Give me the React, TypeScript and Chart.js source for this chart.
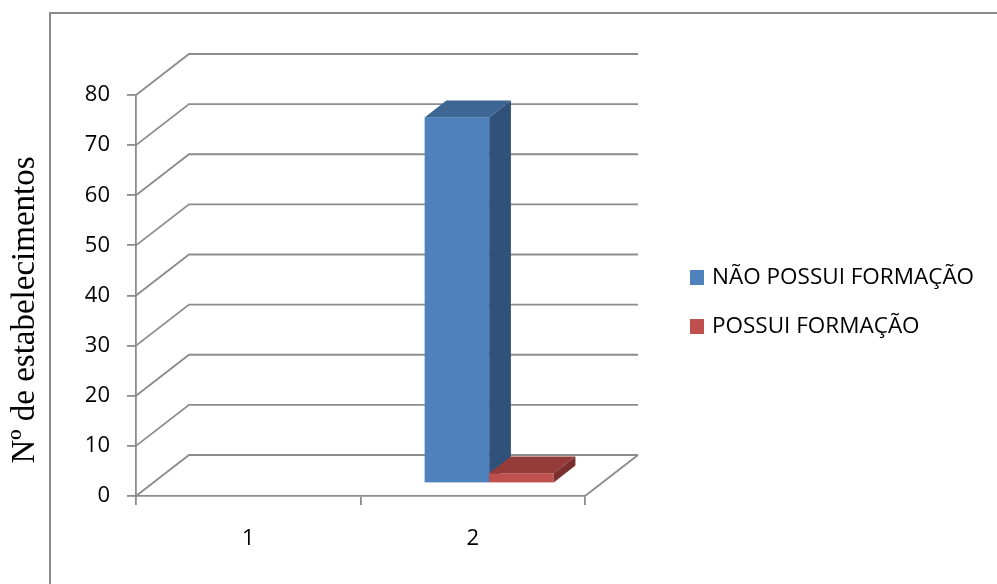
import React, { useEffect, useRef } from "react";
import { Chart, registerables } from "chart.js";

Chart.register(...registerables);

// Data
const categories = ["1", "2"];
const naoPossuiFormacao: (number | null)[] = [null, 73];
const possuiFormacao: (number | null)[] = [null, 2];
const seriesLabels = ["NÃO POSSUI FORMAÇÃO", "POSSUI FORMAÇÃO"];
const yMin = 0;
const yMax = 80;
const yStep = 10;
const yAxisTitle = "Nº de estabelecimentos";

// Styling
const W = 997;
const H = 584;
const GRID = "#8c8c8c";
const SANS = "'Open Sans', 'Liberation Sans', sans-serif";
const SERIF = "'Liberation Serif', 'Times New Roman', serif";
const FRONT = ["#4F81BD", "#C0504D"];
const TOP = ["#3D6695", "#953B39"];
const SIDE = ["#30527A", "#7C302E"];

// Perspective depth of the floor / walls
const DX = 53;
const DY = -41;
const BAR_FRONT = 0.31;
const BAR_BACK = 0.72;

const box3d = {
  id: "box3d",
  beforeDraw(chart: any) {
    const { ctx } = chart;
    ctx.save();
    ctx.fillStyle = "#ffffff";
    ctx.fillRect(0, 0, W, H);
    ctx.strokeStyle = "#8a8a8a";
    ctx.lineWidth = 2;
    ctx.beginPath();
    ctx.moveTo(50, H);
    ctx.lineTo(50, 13);
    ctx.lineTo(W, 13);
    ctx.stroke();
    ctx.restore();
  },
  beforeDatasetsDraw(chart: any) {
    const { ctx, chartArea, scales } = chart;
    const { left, right, bottom } = chartArea;
    const y = scales.y;
    ctx.save();
    ctx.strokeStyle = GRID;
    ctx.lineWidth = 1.8;
    ctx.lineJoin = "miter";
    for (const t of y.ticks) {
      const py = y.getPixelForValue(t.value);
      ctx.beginPath();
      ctx.moveTo(left, py);
      ctx.lineTo(left + DX, py + DY);
      ctx.lineTo(right + DX, py + DY);
      ctx.stroke();
    }
    ctx.beginPath();
    ctx.moveTo(right, bottom);
    ctx.lineTo(right + DX, bottom + DY);
    ctx.stroke();
    ctx.restore();
  },
  beforeDatasetDraw() {
    return false;
  },
  afterDatasetsDraw(chart: any) {
    const { ctx } = chart;
    const fx = DX * BAR_FRONT;
    const fy = DY * BAR_FRONT;
    const bx = DX * BAR_BACK;
    const by = DY * BAR_BACK;
    ctx.save();
    chart.data.datasets.forEach((ds: any, i: number) => {
      const meta = chart.getDatasetMeta(i);
      meta.data.forEach((el: any, j: number) => {
        const v = ds.data[j];
        if (v === null || v === undefined || isNaN(el.y)) return;
        const l = el.x - el.width / 2;
        const r = el.x + el.width / 2;
        const top = el.y;
        const base = el.base;
        // front face
        ctx.fillStyle = FRONT[i];
        ctx.fillRect(l + fx, top + fy, r - l, base - top);
        // top face
        ctx.fillStyle = TOP[i];
        ctx.beginPath();
        ctx.moveTo(l + fx, top + fy);
        ctx.lineTo(l + bx, top + by);
        ctx.lineTo(r + bx, top + by);
        ctx.lineTo(r + fx, top + fy);
        ctx.closePath();
        ctx.fill();
        // side face
        ctx.fillStyle = SIDE[i];
        ctx.beginPath();
        ctx.moveTo(r + fx, top + fy);
        ctx.lineTo(r + bx, top + by);
        ctx.lineTo(r + bx, base + by);
        ctx.lineTo(r + fx, base + fy);
        ctx.closePath();
        ctx.fill();
      });
    });
    ctx.restore();
  },
  afterDraw(chart: any) {
    const { ctx } = chart;
    ctx.save();
    // axis title
    ctx.fillStyle = "#000";
    ctx.font = `33px ${SERIF}`;
    ctx.textAlign = "center";
    ctx.textBaseline = "alphabetic";
    ctx.translate(34, 310);
    ctx.rotate(-Math.PI / 2);
    ctx.fillText(yAxisTitle, 0, 0);
    ctx.restore();

    // legend
    ctx.save();
    ctx.font = `22.5px ${SANS}`;
    ctx.textBaseline = "middle";
    ctx.textAlign = "left";
    chart.data.datasets.forEach((ds: any, i: number) => {
      const cy = 277 + i * 49;
      ctx.fillStyle = FRONT[i];
      ctx.fillRect(690, cy - 7, 14, 15);
      ctx.fillStyle = "#000";
      ctx.fillText(ds.label, 712, cy + 1);
    });
    ctx.restore();
  },
};

export default function App() {
  const ref = useRef<HTMLCanvasElement>(null);

  useEffect(() => {
    if (!ref.current) return;
    const tickFont = { family: SANS, size: 22 };
    const chart = new Chart(ref.current, {
      type: "bar",
      data: {
        labels: categories,
        datasets: [
          {
            label: seriesLabels[0],
            data: naoPossuiFormacao,
            backgroundColor: FRONT[0],
            categoryPercentage: 0.575,
            barPercentage: 1,
          },
          {
            label: seriesLabels[1],
            data: possuiFormacao,
            backgroundColor: FRONT[1],
            categoryPercentage: 0.575,
            barPercentage: 1,
          },
        ],
      },
      options: {
        animation: false,
        responsive: false,
        maintainAspectRatio: false,
        devicePixelRatio: 1,
        layout: { padding: { top: 95, right: 412, left: 0, bottom: 0 } },
        plugins: {
          legend: { display: false },
          tooltip: { enabled: false },
        },
        scales: {
          x: {
            offset: true,
            grid: {
              offset: true,
              drawOnChartArea: false,
              drawTicks: true,
              tickLength: 9,
              color: GRID,
              lineWidth: 1.8,
            },
            border: { display: true, color: GRID, width: 1.8 },
            ticks: { font: tickFont, color: "#000", padding: 21 },
            afterFit: (s: any) => {
              s.height = 88;
            },
          },
          y: {
            min: yMin,
            max: yMax,
            grid: {
              drawOnChartArea: false,
              drawTicks: true,
              tickLength: 9,
              color: GRID,
              lineWidth: 1.8,
            },
            border: { display: true, color: GRID, width: 1.8 },
            ticks: { stepSize: yStep, font: tickFont, color: "#000", padding: 17 },
            afterFit: (s: any) => {
              s.width = 136;
            },
          },
        },
      },
      plugins: [box3d],
    });
    return () => chart.destroy();
  }, []);

  return (
    <div style={{ position: "absolute", left: 0, top: 0, width: W, height: H, background: "#fff" }}>
      <canvas ref={ref} width={W} height={H} style={{ display: "block", width: W, height: H }} />
    </div>
  );
}
